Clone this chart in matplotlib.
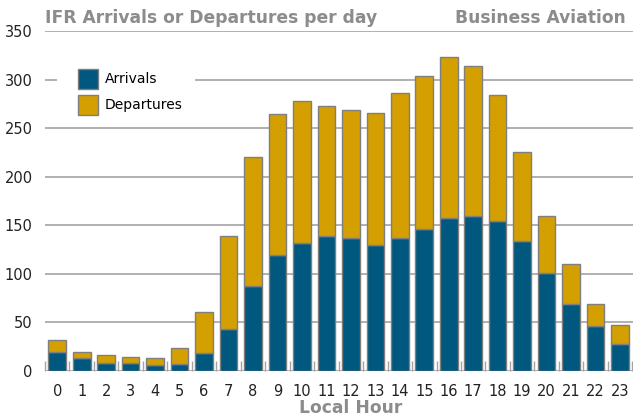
import numpy as np
import matplotlib
matplotlib.use("Agg")
import matplotlib.pyplot as plt
from matplotlib.patches import Patch, Rectangle

hours = [str(h) for h in range(24)]
arrivals = [20, 13, 8, 8, 6, 7, 19, 43, 87, 119, 132, 139, 137, 130, 137, 146,
            157, 160, 154, 134, 101, 69, 46, 28]
totals = [32, 20, 16, 14, 13, 24, 61, 139, 220, 265, 278, 273, 269, 266, 286, 304,
          323, 314, 284, 225, 160, 110, 69, 47]
departures = [t - a for t, a in zip(totals, arrivals)]

c_arr = "#00587F"
c_dep = "#D49F00"
c_edge = "#7f7f7f"
c_grid = "#a3a3a3"
c_title = "#8c8c8c"

W, H = 633, 417
fig = plt.figure(figsize=(W / 100, H / 100), dpi=100)
ax_l, ax_b, ax_t = 45, 371, 31
ax = fig.add_axes([ax_l / W, (H - ax_b) / H, 1 - ax_l / W, (ax_b - ax_t) / H])

def ax_frac(px, py):
    """pixel position (from top-left of figure) -> axes fraction"""
    return (px - ax_l) / (W - ax_l), (ax_b - py) / (ax_b - ax_t)

x = np.arange(len(hours))
w = 0.72
ax.bar(x, arrivals, width=w, color=c_arr, edgecolor=c_edge, linewidth=1.0, zorder=3)
ax.bar(x, departures, width=w, bottom=arrivals, color=c_dep, edgecolor=c_edge,
       linewidth=1.0, zorder=3)

ax.set_xlim(-0.5, 23.53)
ax.set_ylim(0, 350)
ax.set_yticks(range(0, 351, 50))
ax.set_xticks(x)
ax.set_xticklabels(hours)
ax.set_xticks(np.arange(-0.5, 23.6, 1.0), minor=True)

ax.grid(axis="y", color=c_grid, linewidth=1.2, zorder=0)
ax.set_axisbelow(True)
for s in ax.spines.values():
    s.set_visible(False)

ax.tick_params(axis="both", which="major", length=0, labelsize=10.5,
               labelcolor="#222222")
ax.tick_params(axis="y", pad=9)
ax.tick_params(axis="x", pad=9)
ax.tick_params(axis="x", which="minor", direction="in", length=7, width=1.0,
               color=c_grid)

ax.set_xlabel("Local Hour", fontsize=12.3, fontweight="bold", color=c_title)
ax.xaxis.set_label_coords(*ax_frac(351, 399))

fig.text(45 / W, 1 - 18 / H, "IFR Arrivals or Departures per day",
         fontsize=12.3, fontweight="bold", color=c_title, va="center", ha="left")
fig.text(626 / W, 1 - 18 / H, "Business Aviation",
         fontsize=12.3, fontweight="bold", color=c_title, va="center", ha="right")

# white backing behind the legend, interrupting the 300 gridline
x0, y0 = ax_frac(57, 88)
x1, y1 = ax_frac(195, 70)
ax.add_patch(Rectangle((x0, y0), x1 - x0, y1 - y0, transform=ax.transAxes,
                       facecolor="white", edgecolor="none", zorder=1))

handles = [Patch(facecolor=c_arr, edgecolor=c_edge, label="Arrivals"),
           Patch(facecolor=c_dep, edgecolor=c_edge, label="Departures")]
fs = 10
px_per_em = fs * 100 / 72
leg = ax.legend(handles=handles, loc="upper left",
                bbox_to_anchor=ax_frac(78, 69), bbox_transform=ax.transAxes,
                frameon=False, fontsize=fs, borderpad=0, borderaxespad=0,
                handlelength=20 / px_per_em, handleheight=1.84,
                handletextpad=7 / px_per_em, labelspacing=6 / px_per_em)
leg.set_zorder(5)

fig.savefig("out.png", dpi=100)
